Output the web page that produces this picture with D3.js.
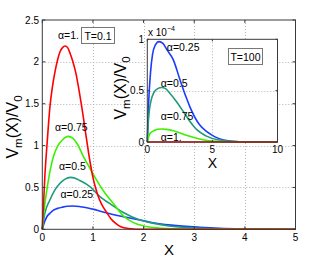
<!DOCTYPE html>
<html><head><meta charset="utf-8">
<script src="https://cdn.jsdelivr.net/npm/d3@7"></script>
<style>
html,body{margin:0;padding:0;background:#fff;}
svg{display:block;font-family:"Liberation Sans",Arial,Helvetica,sans-serif;}
</style></head>
<body><svg id="c" width="327" height="259"></svg>
<script>
// ---------- data ----------
const mainXTicks = [0,1,2,3,4,5];
const mainYTicks = [0,0.5,1,1.5,2,2.5];
const insetXTicks = [0,5,10];
const insetYTicks = [0,0.5,1];

// main panel, T=0.1
const redX   = [0,0.05,0.1,0.15,0.2,0.25,0.3,0.35,0.4,0.45,0.5,0.55,0.6,0.665,0.72,0.78,0.875,0.95,1.0,1.05,1.1,1.17,1.24,1.35,1.45,1.55,1.7,2.0,3.0,5.0];
const redY   = [0,0.63,1.07,1.46,1.70,1.88,2.02,2.12,2.17,2.19,2.17,2.10,2.01,1.86,1.68,1.46,1.07,0.78,0.62,0.50,0.40,0.30,0.23,0.13,0.07,0.03,0.01,0,0,0];
const greenX = [0,0.03,0.09,0.15,0.22,0.3,0.4,0.51,0.6,0.7,0.81,0.95,1.07,1.24,1.4,1.6,1.8,2.0,2.3,2.6,3.0,3.5,5.0];
const greenY = [0,0.2,0.47,0.69,0.87,0.99,1.07,1.11,1.09,1.01,0.87,0.72,0.59,0.43,0.31,0.16,0.08,0.04,0.015,0.006,0.002,0,0];
const tealX  = [0,0.05,0.15,0.25,0.35,0.45,0.55,0.65,0.75,0.94,1.14,1.4,1.6,1.93,2.13,2.5,3.0,3.5,4.0,5.0];
const tealY  = [0,0.19,0.35,0.47,0.55,0.60,0.62,0.61,0.58,0.51,0.39,0.28,0.20,0.11,0.08,0.04,0.015,0.005,0.002,0];
const blueX  = [0,0.04,0.09,0.15,0.22,0.3,0.4,0.5,0.61,0.75,0.9,1.04,1.24,1.6,1.93,2.13,2.55,3.11,3.5,4.0,5.0];
const blueY  = [0,0.08,0.15,0.19,0.23,0.25,0.265,0.275,0.278,0.27,0.255,0.235,0.20,0.15,0.11,0.085,0.05,0.024,0.012,0.005,0];

// inset panel, T=100 (values x 10^-4)
const inBlueX  = [0,0.05,0.15,0.25,0.4,0.6,0.9,1.2,1.5,2.0,2.5,3.0,3.28,4.0,4.57,5.2,5.85,7.0,8.0,10];
const inBlueY  = [0,0.22,0.50,0.68,0.85,0.94,0.977,0.96,0.90,0.80,0.61,0.43,0.34,0.17,0.10,0.05,0.02,0.003,0,0];
const inTealX  = [0,0.05,0.15,0.3,0.5,0.8,1.1,1.4,1.7,2.26,2.8,3.28,3.8,4.5,5.5,7.0,8.0,10];
const inTealY  = [0,0.14,0.30,0.41,0.48,0.52,0.53,0.52,0.48,0.39,0.29,0.20,0.12,0.06,0.02,0.003,0,0];
const inGreenX = [0,0.1,0.2,0.5,0.8,1.1,1.5,2.0,3.0,4.0,5.0,6.0,7.0,10];
const inGreenY = [0,0.05,0.08,0.11,0.124,0.127,0.123,0.11,0.065,0.03,0.01,0.003,0,0];
const inRedX   = [0,10];
const inRedY   = [0,0];

const mainLabels = [
  {t:"α=1.",  x:0.31, y:2.27},
  {t:"α=0.75",x:0.25, y:1.17},
  {t:"α=0.5", x:0.33, y:0.71},
  {t:"α=0.25",x:0.36, y:0.37}
];
const insetLabels = [
  {t:"α=0.25",x:1.5, y:0.89},
  {t:"α=0.5", x:1.03, y:0.535},
  {t:"α=0.75",x:1.03, y:0.215},
  {t:"α=1.",  x:1.03, y:0.01}
];

const cRed="#ff0000", cGreen="#3cf000", cTeal="#209a7a", cBlue="#1a3cff";

// ---------- drawing ----------
const svg = d3.select("#c");

function panel(g, box, xd, yd, gridX, gridY) {
  const x = d3.scaleLinear().domain(xd).range([box.l, box.r]);
  const y = d3.scaleLinear().domain(yd).range([box.b, box.t]);
  g.append("rect").attr("x",box.l).attr("y",box.t).attr("width",box.r-box.l).attr("height",box.b-box.t).attr("fill","#fff");
  const grid = g.append("g").attr("stroke","#b4b4b4").attr("stroke-width",1).attr("stroke-dasharray","1,2").attr("fill","none");
  gridX.forEach(v=>grid.append("line").attr("x1",Math.round(x(v))+0.5).attr("x2",Math.round(x(v))+0.5).attr("y1",box.t).attr("y2",box.b));
  gridY.forEach(v=>grid.append("line").attr("y1",Math.round(y(v))+0.5).attr("y2",Math.round(y(v))+0.5).attr("x1",box.l).attr("x2",box.r));
  return {x,y};
}

function frame(g, box, sc, xt, yt, tickLen){
  const f = g.append("g").attr("stroke","#3a3a3a").attr("stroke-width",1).attr("fill","none");
  f.append("rect").attr("x",box.l).attr("y",box.t).attr("width",box.r-box.l).attr("height",box.b-box.t);
  xt.forEach(v=>{ const px=sc.x(v);
    f.append("line").attr("x1",px).attr("x2",px).attr("y1",box.b).attr("y2",box.b-tickLen);
    f.append("line").attr("x1",px).attr("x2",px).attr("y1",box.t).attr("y2",box.t+tickLen);});
  yt.forEach(v=>{ const py=sc.y(v);
    f.append("line").attr("y1",py).attr("y2",py).attr("x1",box.l).attr("x2",box.l+tickLen);
    f.append("line").attr("y1",py).attr("y2",py).attr("x1",box.r).attr("x2",box.r-tickLen);});
}

function curves(g, sc, list){
  const line = d3.line().x(d=>sc.x(d[0])).y(d=>sc.y(d[1])).curve(d3.curveMonotoneX);
  list.forEach(([xs,ys,c])=>{
    g.append("path").datum(xs.map((v,i)=>[v,ys[i]])).attr("d",line)
      .attr("fill","none").attr("stroke",c).attr("stroke-width",1.6).attr("stroke-linejoin","round");
  });
}

function vlabel(g, x, y, size){
  const t = g.append("text").attr("transform",`translate(${x},${y}) rotate(-90)`).attr("text-anchor","middle").attr("font-size",size);
  t.append("tspan").text("V");
  t.append("tspan").attr("font-size",size*0.72).attr("dy",size*0.28).text("m");
  t.append("tspan").attr("dy",-size*0.28).text("(X)/V");
  t.append("tspan").attr("font-size",size*0.72).attr("dy",size*0.28).text("0");
}

// main panel
const M = {l:42.3, r:295.5, t:20, b:229.3};
const gm = svg.append("g");
const sm = panel(gm, M, [0,5], [0,2.5], [1,2,3,4], [0.5,1,1.5,2]);
curves(gm, sm, [[blueX,blueY,cBlue],[tealX,tealY,cTeal],[greenX,greenY,cGreen],[redX,redY,cRed]]);
frame(gm, M, sm, mainXTicks, mainYTicks, 3);

gm.selectAll(".xt").data(mainXTicks).join("text").attr("x",d=>sm.x(d)).attr("y",241)
  .attr("text-anchor","middle").attr("font-size",10).text(d=>d);
gm.selectAll(".yt").data(mainYTicks).join("text").attr("x",39).attr("y",d=>sm.y(d)+3.5)
  .attr("text-anchor","end").attr("font-size",10).text(d=>d);
gm.append("text").attr("x",(M.l+M.r)/2).attr("y",255).attr("text-anchor","middle").attr("font-size",15).text("X");
vlabel(gm, 18, 127, 16);

gm.selectAll(".al").data(mainLabels).join("text").attr("x",d=>sm.x(d.x)).attr("y",d=>sm.y(d.y))
  .attr("font-size",10.5).text(d=>d.t);
gm.append("rect").attr("x",81.5).attr("y",27.5).attr("width",33).attr("height",16).attr("fill","#fff").attr("stroke","#777");
gm.append("text").attr("x",98).attr("y",40).attr("text-anchor","middle").attr("font-size",10.5).text("T=0.1");

// inset panel
const I = {l:147.3, r:277.5, t:39.3, b:142};
const gi = svg.append("g");
const si = panel(gi, I, [0,10], [0,1], [5], [0.5]);
curves(gi, si, [[inBlueX,inBlueY,cBlue],[inTealX,inTealY,cTeal],[inGreenX,inGreenY,cGreen],[inRedX,inRedY,cRed]]);
frame(gi, I, si, insetXTicks, insetYTicks, 2);
gi.selectAll(".xt").data(insetXTicks).join("text").attr("x",d=>si.x(d)).attr("y",153)
  .attr("text-anchor","middle").attr("font-size",10).text(d=>d);
gi.selectAll(".yt").data(insetYTicks).join("text").attr("x",144).attr("y",d=>si.y(d)+3.5)
  .attr("text-anchor","end").attr("font-size",10).text(d=>d);
const ex = gi.append("text").attr("x",148).attr("y",36).attr("font-size",10);
ex.append("tspan").text("x 10");
ex.append("tspan").attr("font-size",7).attr("dy",-5).text("−4");
gi.append("text").attr("x",(I.l+I.r)/2).attr("y",168).attr("text-anchor","middle").attr("font-size",14).text("X");
vlabel(gi, 126, 88, 16);
gi.selectAll(".al").data(insetLabels).join("text").attr("x",d=>si.x(d.x)).attr("y",d=>si.y(d.y))
  .attr("font-size",10.5).text(d=>d.t);
gi.append("rect").attr("x",228.5).attr("y",48.5).attr("width",34).attr("height",16).attr("fill","#fff").attr("stroke","#777");
gi.append("text").attr("x",245.5).attr("y",61).attr("text-anchor","middle").attr("font-size",10.5).text("T=100");
</script></body></html>
